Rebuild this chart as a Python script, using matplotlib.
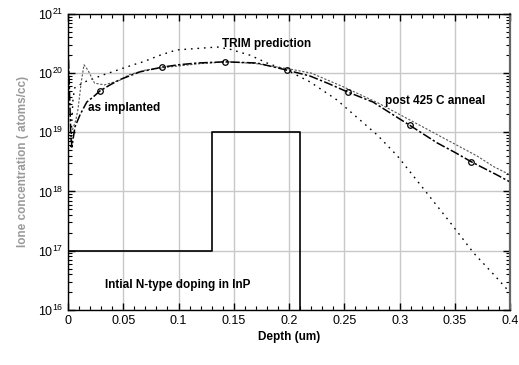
import numpy as np
import matplotlib
matplotlib.use("Agg")
import matplotlib.pyplot as plt
from matplotlib.ticker import MultipleLocator, LogLocator, NullFormatter

plt.rcParams["font.family"] = ["Liberation Sans", "DejaVu Sans"]

# background doping step (cm^-3)
dop_x = [0.0, 0.13, 0.13, 0.21, 0.21]
dop_y = [1e17, 1e17, 1e19, 1e19, 1e15]

# TRIM prediction (log10 conc)
trim_x = [0.0025, 0.0035, 0.0045, 0.006, 0.015, 0.032, 0.059, 0.068, 0.083, 0.098,
          0.12, 0.135, 0.147, 0.165, 0.18, 0.198, 0.219, 0.243, 0.264, 0.28,
          0.298, 0.321, 0.346, 0.367, 0.385, 0.4]
trim_lg = [18.75, 19.2, 19.55, 19.75, 19.85, 19.97, 20.14, 20.19, 20.3, 20.39,
           20.42, 20.44, 20.40, 20.3, 20.17, 20.05, 19.85, 19.55, 19.21, 18.95,
           18.6, 18.06, 17.47, 16.96, 16.6, 16.29]

# as implanted profile (log10 conc)
imp_x = [0.0, 0.001, 0.0025, 0.0035, 0.0063, 0.011, 0.017, 0.023, 0.029, 0.038,
         0.047, 0.065, 0.085, 0.1, 0.117, 0.142, 0.171, 0.198, 0.219, 0.236,
         0.253, 0.276, 0.292, 0.309, 0.334, 0.35, 0.365, 0.388, 0.4]
imp_lg = [20.5, 19.9, 19.0, 18.75, 19.09, 19.3, 19.51, 19.6, 19.7, 19.8,
          19.89, 20.02, 20.1, 20.14, 20.17, 20.19, 20.17, 20.05, 19.95, 19.82,
          19.68, 19.51, 19.32, 19.12, 18.82, 18.66, 18.5, 18.28, 18.16]
imp_marks = [8, 12, 15, 17, 20, 23, 26]

# post 425 C anneal profile (log10 conc)
ann_x = [0.004, 0.007, 0.009, 0.012, 0.0145, 0.018, 0.024, 0.033, 0.047, 0.055,
         0.07, 0.09, 0.12, 0.145, 0.17, 0.2, 0.22, 0.25, 0.28, 0.31, 0.34,
         0.37, 0.385, 0.4]
ann_lg = [19.04, 19.2, 19.38, 19.85, 20.14, 20.05, 19.83, 19.8, 19.88, 19.97,
          20.05, 20.1, 20.16, 20.19, 20.16, 20.07, 20.0, 19.76, 19.5, 19.2,
          18.9, 18.6, 18.42, 18.28]

fig = plt.figure(figsize=(5.19, 3.65), dpi=100)
ax = fig.add_axes([0.131, 0.151, 0.852, 0.811])

ax.plot(dop_x, dop_y, "-", c="black", lw=1.2)
ax.plot(trim_x, 10 ** np.array(trim_lg), ls=(0, (1.2, 3.5)), c="black", lw=1.0)
ax.plot(ann_x, 10 ** np.array(ann_lg), ls=(0, (2, 1.5)), c="#555555", lw=0.8)
ax.plot(imp_x, 10 ** np.array(imp_lg), ls=(0, (6, 1.5, 1.5, 1.5)), c="black", lw=1.1,
        marker="o", mfc="none", mec="black", ms=4, mew=0.9, markevery=imp_marks)

ax.set_yscale("log")
ax.set_xlim(0, 0.4)
ax.set_ylim(1e16, 1e21)
ax.xaxis.set_major_locator(MultipleLocator(0.05))
ax.xaxis.set_minor_locator(MultipleLocator(0.01))
ax.yaxis.set_major_locator(LogLocator(base=10, numticks=10))
ax.yaxis.set_minor_locator(LogLocator(base=10, subs=np.arange(2, 10), numticks=10))
ax.yaxis.set_minor_formatter(NullFormatter())
ax.set_xticks([0, 0.05, 0.1, 0.15, 0.2, 0.25, 0.3, 0.35, 0.4])
ax.set_xticklabels(["0", "0.05", "0.1", "0.15", "0.2", "0.25", "0.3", "0.35", "0.4"])

ax.tick_params(which="both", direction="in", top=True, right=True, labelsize=9)
ax.tick_params(which="major", length=5, width=1)
ax.tick_params(which="minor", length=3, width=0.8)
ax.grid(True, which="major", color="#c8c8c8", lw=1)
for s in ax.spines.values():
    s.set_linewidth(1.0)
ax.spines["right"].set_color("#666666")
ax.spines["right"].set_linewidth(1.6)

ax.set_xlabel("Depth (um)", fontsize=8.5, fontweight="bold", labelpad=3)
ax.set_ylabel("Ione concentration ( atoms/cc)", fontsize=8.5, fontweight="bold",
              color="#9a9a9a", labelpad=6)

ax.text(0.139, 3.1e20, "TRIM prediction", fontsize=8.5, fontweight="bold", va="center")
ax.text(0.018, 2.6e19, "as implanted", fontsize=8.5, fontweight="bold", va="center")
ax.text(0.287, 3.4e19, "post 425 C anneal", fontsize=8.5, fontweight="bold", va="center")
ax.text(0.0335, 2.6e16, "Intial N-type doping in InP", fontsize=8.5,
        fontweight="bold", va="center")

fig.savefig("out.png", dpi=100)
